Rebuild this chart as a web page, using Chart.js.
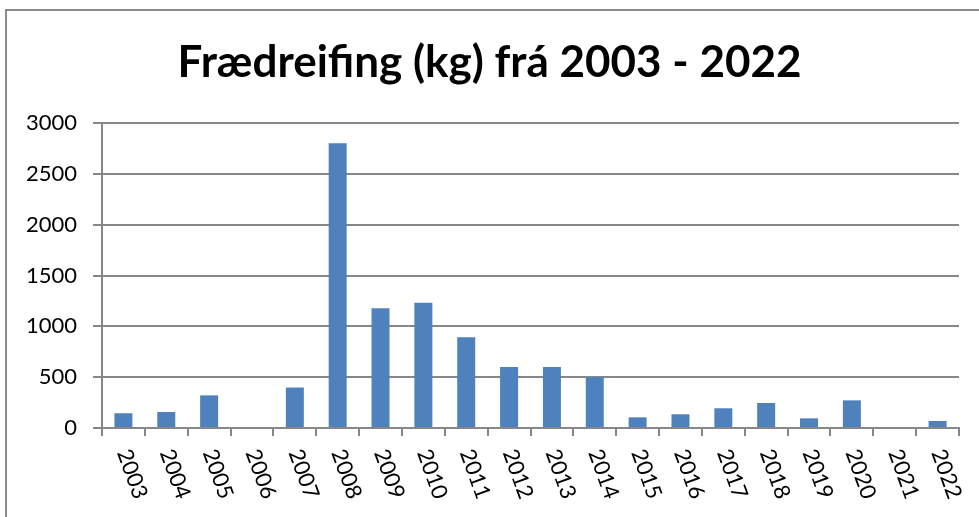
<!DOCTYPE html>
<html>
<head>
<meta charset="utf-8">
<script src="https://cdn.jsdelivr.net/npm/chart.js@4/dist/chart.umd.min.js"></script>
<style>
html,body{margin:0;padding:0;background:#fff;}
#wrap{width:979px;height:517px;position:relative;}
</style>
</head>
<body>
<div id="wrap"><canvas id="c" width="979" height="517"></canvas></div>
<script>
const years = ['2003','2004','2005','2006','2007','2008','2009','2010','2011','2012','2013','2014','2015','2016','2017','2018','2019','2020','2021','2022'];
const kg = [145, 157, 321, 0, 398, 2800, 1178, 1232, 892, 600, 600, 500, 105, 135, 194, 246, 95, 272, 0, 69];
const yTicks = [0, 500, 1000, 1500, 2000, 2500, 3000];
const titleText = 'Frædreifing (kg) frá 2003 - 2022';

const GRAY = '#878787';
const FONT = 'Lato';

const framePlugin = {
  id: 'frame',
  beforeDraw(chart) {
    const ctx = chart.ctx;
    ctx.save();
    ctx.fillStyle = '#fff';
    ctx.fillRect(0, 0, chart.width, chart.height);
    ctx.strokeStyle = '#8c8c8c';
    ctx.lineWidth = 2;
    ctx.beginPath();
    ctx.moveTo(6, chart.height + 2);
    ctx.lineTo(6, 10);
    ctx.lineTo(chart.width + 2, 10);
    ctx.stroke();
    ctx.restore();
  }
};

const rotLabels = {
  id: 'rotLabels',
  afterDraw(chart) {
    const sx = chart.scales.x;
    const ctx = chart.ctx;
    ctx.save();
    ctx.font = '22px ' + FONT;
    ctx.fillStyle = '#000';
    ctx.textAlign = 'left';
    ctx.textBaseline = 'middle';
    const ang = 70 * Math.PI / 180;
    years.forEach((lab, i) => {
      const x = sx.getPixelForValue(i);
      const y = sx.top + 22;
      ctx.save();
      ctx.translate(x, y);
      ctx.rotate(ang);
      ctx.fillText(lab, 0, 0);
      ctx.restore();
    });
    ctx.restore();
  }
};

new Chart(document.getElementById('c'), {
  type: 'bar',
  data: {
    labels: years,
    datasets: [{
      data: kg,
      backgroundColor: '#4F81BD',
      borderWidth: 0,
      barPercentage: 0.42,
      categoryPercentage: 1.0
    }]
  },
  options: {
    responsive: false,
    animation: false,
    devicePixelRatio: 1,
    layout: { padding: { top: 10, left: 20, right: 20, bottom: 0 } },
    plugins: {
      legend: { display: false },
      tooltip: { enabled: false },
      title: {
        display: true,
        text: titleText,
        color: '#000',
        font: { family: FONT, size: 44, weight: 'bold', lineHeight: 1.2 },
        padding: { top: 26.4, bottom: 33.8 }
      }
    },
    scales: {
      x: {
        type: 'category',
        offset: true,
        grid: { display: true, drawOnChartArea: false, drawTicks: true, tickLength: 8, color: GRAY, lineWidth: 2, offset: true },
        border: { display: true, color: GRAY, width: 2 },
        ticks: { display: false },
        afterFit(scale) { scale.height = 89; }
      },
      y: {
        min: 0,
        max: 3000,
        afterBuildTicks(scale) { scale.ticks = yTicks.map(v => ({ value: v })); },
        grid: { color: GRAY, lineWidth: 2, drawTicks: true, tickLength: 9 },
        border: { display: true, color: GRAY, width: 2 },
        ticks: { color: '#000', font: { family: FONT, size: 22 }, padding: 16, callback: (v) => String(v) },
        afterFit(scale) { scale.width = 82; }
      }
    }
  },
  plugins: [framePlugin, rotLabels]
});
</script>
</body>
</html>
